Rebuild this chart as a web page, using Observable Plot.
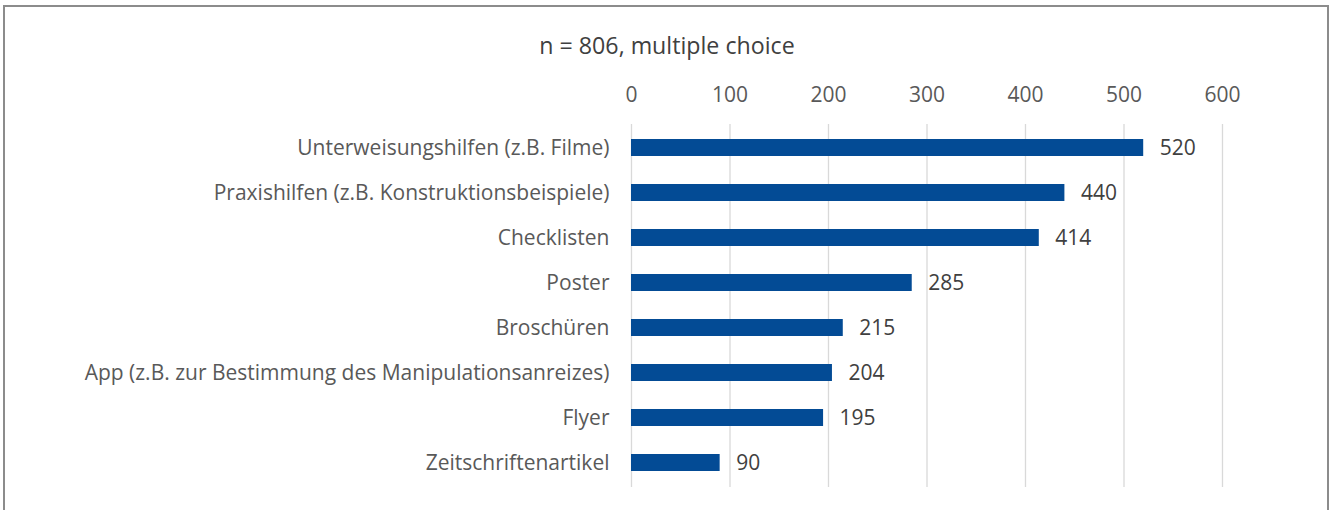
<!DOCTYPE html>
<html><head><meta charset="utf-8">
<script src="https://cdn.jsdelivr.net/npm/d3@7"></script>
<script src="https://cdn.jsdelivr.net/npm/@observablehq/plot@0.6"></script>
<style>
body{margin:0;background:#fff;font-family:"Open Sans",sans-serif;}
#frame{position:absolute;left:3px;top:5px;width:1326px;height:520px;border:2px solid #8c8c8c;box-sizing:border-box;}
#wrap{position:absolute;left:0;top:0;width:1334px;}
#title{height:70px;line-height:90px;text-align:center;font-size:23.2px;color:#404040;}
svg{display:block;}
</style></head>
<body>
<div id="frame"></div>
<div id="wrap"><div id="title">n = 806, multiple choice</div><div id="chart"></div></div>
<script>
const categories = ["Unterweisungshilfen (z.B. Filme)","Praxishilfen (z.B. Konstruktionsbeispiele)","Checklisten","Poster","Broschüren","App (z.B. zur Bestimmung des Manipulationsanreizes)","Flyer","Zeitschriftenartikel"];
const values = [520,440,414,285,215,204,195,90];
const xTicks = [0,100,200,300,400,500,600];
const data = categories.map((c,i)=>({c,v:values[i]}));
const chart = Plot.plot({
  width:1334, height:440,
  marginLeft:631, marginRight:112, marginTop:55, marginBottom:25,
  style:{fontFamily:"'Open Sans', sans-serif", fontSize:"21px", color:"#595959", background:"transparent"},
  x:{domain:[0,600], ticks:xTicks},
  y:{domain:categories, paddingInner:0.63, paddingOuter:0.315, align:0.5},
  marks:[
    Plot.ruleX(xTicks,{stroke:"#d9d9d9", strokeWidth:1.3, y1:()=>categories[0], y2:()=>categories[categories.length-1], insetTop:-15, insetBottom:-16}),
    Plot.axisX({anchor:"top", ticks:xTicks, tickSize:0, tickPadding:24, label:null, fontSize:21, fill:"#595959"}),
    Plot.axisY({tickSize:0, tickPadding:22, label:null, fontSize:21, fill:"#595959"}),
    Plot.barX(data,{x:"v", y:"c", fill:"#034b95"}),
    Plot.text(data,{x:"v", y:"c", text:d=>String(d.v), textAnchor:"start", dx:16, fontSize:21, fill:"#404040"})
  ]
});
document.getElementById("chart").appendChild(chart);
</script>
</body></html>
